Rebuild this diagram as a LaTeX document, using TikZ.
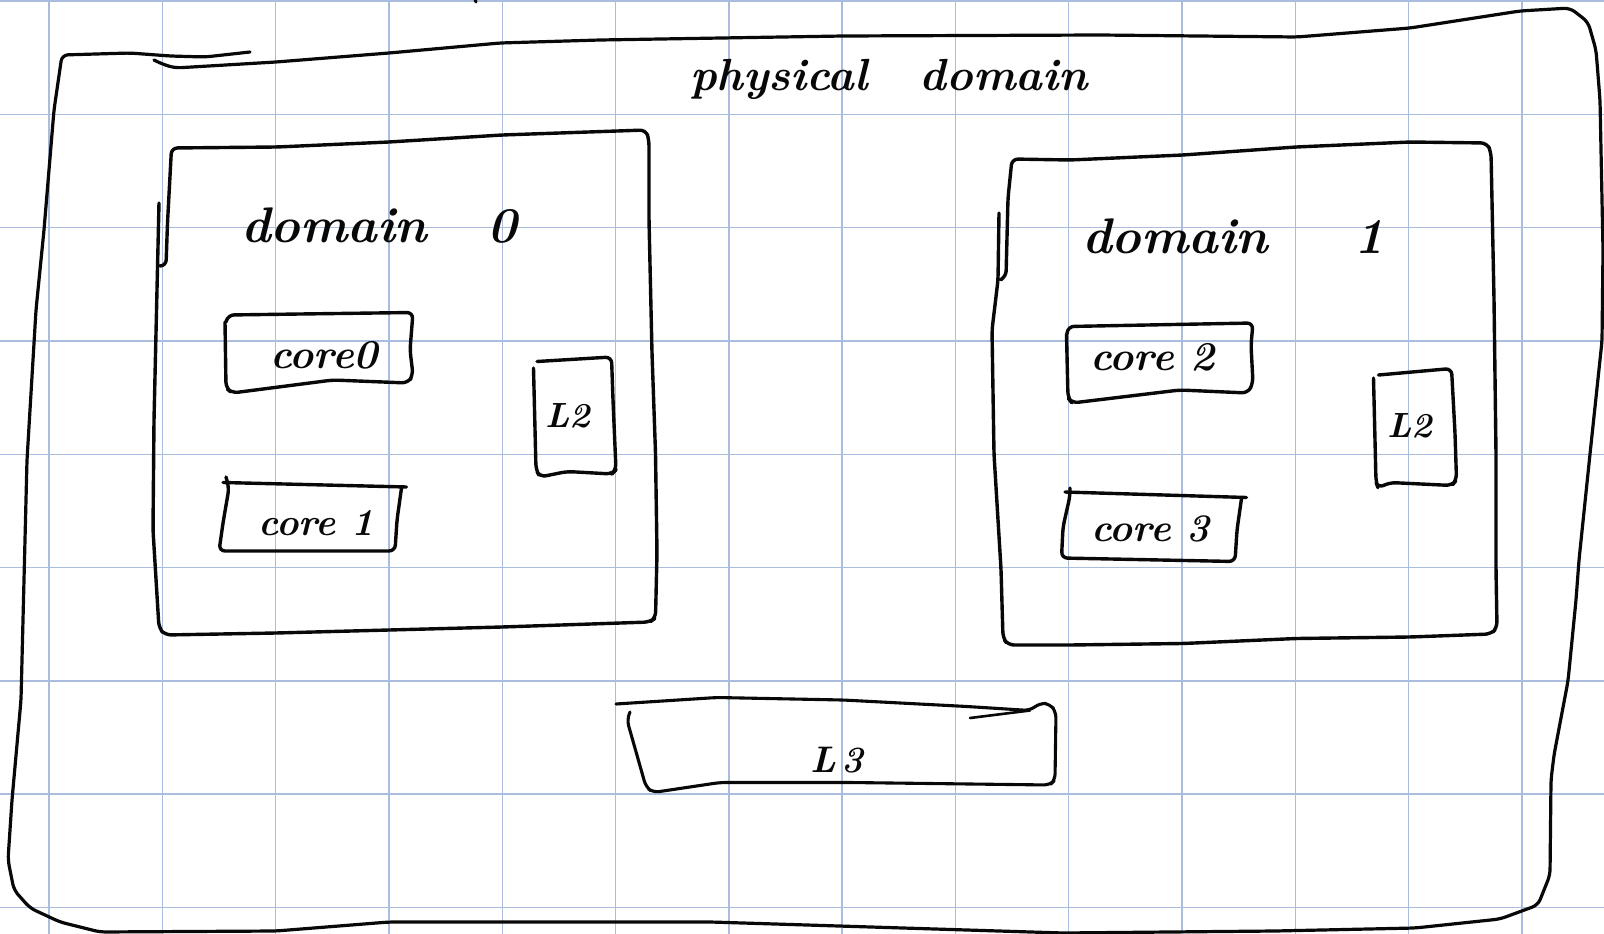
\documentclass[tikz,border=0pt]{standalone}
\usepackage{fontspec}
\definecolor{gridblue}{RGB}{170,189,222}
\definecolor{ink}{RGB}{8,8,8}
\begin{document}
\begin{tikzpicture}[x=1pt,y=-1pt,
  inkline/.style={draw=ink, line width=3.4pt, line cap=round, line join=round, rounded corners=6pt},
  gridline/.style={draw=gridblue, line width=1.4pt},
  handtext/.style={text=ink, inner sep=0pt, anchor=base west,
    font=\fontsize{#1}{#1}\selectfont\bfseries\itshape},
]
% page and squared paper
\useasboundingbox (0,0) rectangle (1604,934);
\fill[white] (0,0) rectangle (1604,934);
\foreach \k in {0,...,13} \draw[gridline] ({49+113.3*\k},0) -- ({49+113.3*\k},934);
\foreach \k in {0,...,8} \draw[gridline] (0,{1+113.3*\k}) -- (1604,{1+113.3*\k});

% stray stroke at the top edge
\draw[inkline, line width=3pt] (474,-3) -- (476,2);

% physical domain (outer frame)
\draw[inkline, line width=3.2pt] (250,52) -- (205,57) -- (170,56) -- (130,53) -- (62,55) -- (54,110)
  -- (44,230) -- (36,310) -- (27,460) -- (21,700) -- (12,800) -- (8,860) -- (14,890) -- (30,908)
  -- (60,922) -- (100,932) -- (276,931) -- (389,922) -- (711,922) -- (1063,933) -- (1275,931)
  -- (1415,928) -- (1500,919) -- (1538,905) -- (1550,875) -- (1551,780) -- (1554,755) -- (1568,681)
  -- (1576,600) -- (1579,560) -- (1590,454) -- (1602,341) -- (1603,250) -- (1600,100) -- (1596,50)
  -- (1588,22) -- (1570,8) -- (1520,11) -- (1410,28) -- (1297,37) -- (1100,35) -- (843,36)
  -- (600,40) -- (500,43) -- (389,53) -- (276,62) -- (175,68) -- (162,64) -- (154,60);
\node[handtext=45] (phys) at (690,90) {physical\hspace{52pt}domain};

% domain 0
\draw[inkline] (160,266) -- (166,266) -- (167.5,223) -- (171.5,148) -- (277,147) -- (389,142)
  -- (502,135) -- (646,130) -- (649,140) -- (649,220) -- (652,353) -- (655.5,453) -- (657,553)
  -- (655.5,618) -- (650,622) -- (502,627) -- (276,633) -- (165,635) -- (159,628) -- (153,530)
  -- (154,420) -- (159,203);
\node[handtext=50] (dom0) at (241,242) {domain\hspace{60pt}0};

\draw[inkline] (226,322) -- (228,315) -- (300,314) -- (413,312.5) -- (410,350) -- (413,375)
  -- (408,383) -- (333,380) -- (232,393) -- (226,388) -- (225,322);
\node[handtext=41] (core0) at (270,368) {core0};

\draw[inkline] (223,482.5) -- (406.5,487);
\draw[inkline] (226,477) -- (229,488) -- (223,523) -- (219,551) -- (395,551) -- (397,520) -- (401.5,488);
\node[handtext=38] (core1) at (258,535) {core 1};

\draw[inkline] (537,361.5) -- (611.5,357) -- (613,400) -- (616,470) -- (612,474) -- (567,471.5)
  -- (540,477) -- (536,470) -- (533.5,368);
\node[handtext=35] (l2a) at (545,427) {L2};

% domain 1
\draw[inkline] (1002,279) -- (1006,277) -- (1008,198) -- (1012,159) -- (1070,160) -- (1183,155)
  -- (1296,147) -- (1410,142) -- (1487,143) -- (1491,152) -- (1494,299) -- (1496,454) -- (1496,569)
  -- (1497,628) -- (1491,634) -- (1410,637) -- (1296,638.5) -- (1183,643.5) -- (1070,645)
  -- (1008,645) -- (1003,638) -- (1001,569) -- (994,454) -- (992,330) -- (998,280) -- (999,213);
\node[handtext=50] (dom1) at (1082,253) {domain\hspace{86pt}1};

\draw[inkline] (1067,334) -- (1068,326.5) -- (1253,323) -- (1251,345) -- (1253,383) -- (1248,393)
  -- (1180,390) -- (1072,403) -- (1068,398) -- (1066.5,334);
\node[handtext=41] (core2) at (1090,370) {core 2};

\draw[inkline] (1065,492) -- (1246.5,497.5);
\draw[inkline] (1070,488) -- (1070,496) -- (1063,527) -- (1061.5,558) -- (1235,561.5) -- (1237,530) -- (1241.5,498.5);
\node[handtext=39] (core3) at (1091,541) {core 3};

\draw[inkline] (1378.5,375) -- (1451.5,368.5) -- (1455,433) -- (1456.5,480) -- (1452,485.5)
  -- (1390,482.5) -- (1378,488) -- (1376,482) -- (1373.5,378);
\node[handtext=35] (l2b) at (1387,437) {L2};

% shared L3
\draw[inkline, line width=3.1pt] (616,704) -- (717,697.5) -- (843,700) -- (967,706.5) -- (1030,710.5)
  -- (1040,703) -- (1050,704) -- (1056,712) -- (1055,780) -- (1050,785) -- (850,782.5)
  -- (720,782.5) -- (653,792.5) -- (646,787) -- (627,720) -- (630,712);
\draw[inkline, line width=2.6pt] (970,718) -- (1030,710.5);
\node[handtext=37] (l3) at (810,772) {L\kern5pt 3};
\end{tikzpicture}
\end{document}
